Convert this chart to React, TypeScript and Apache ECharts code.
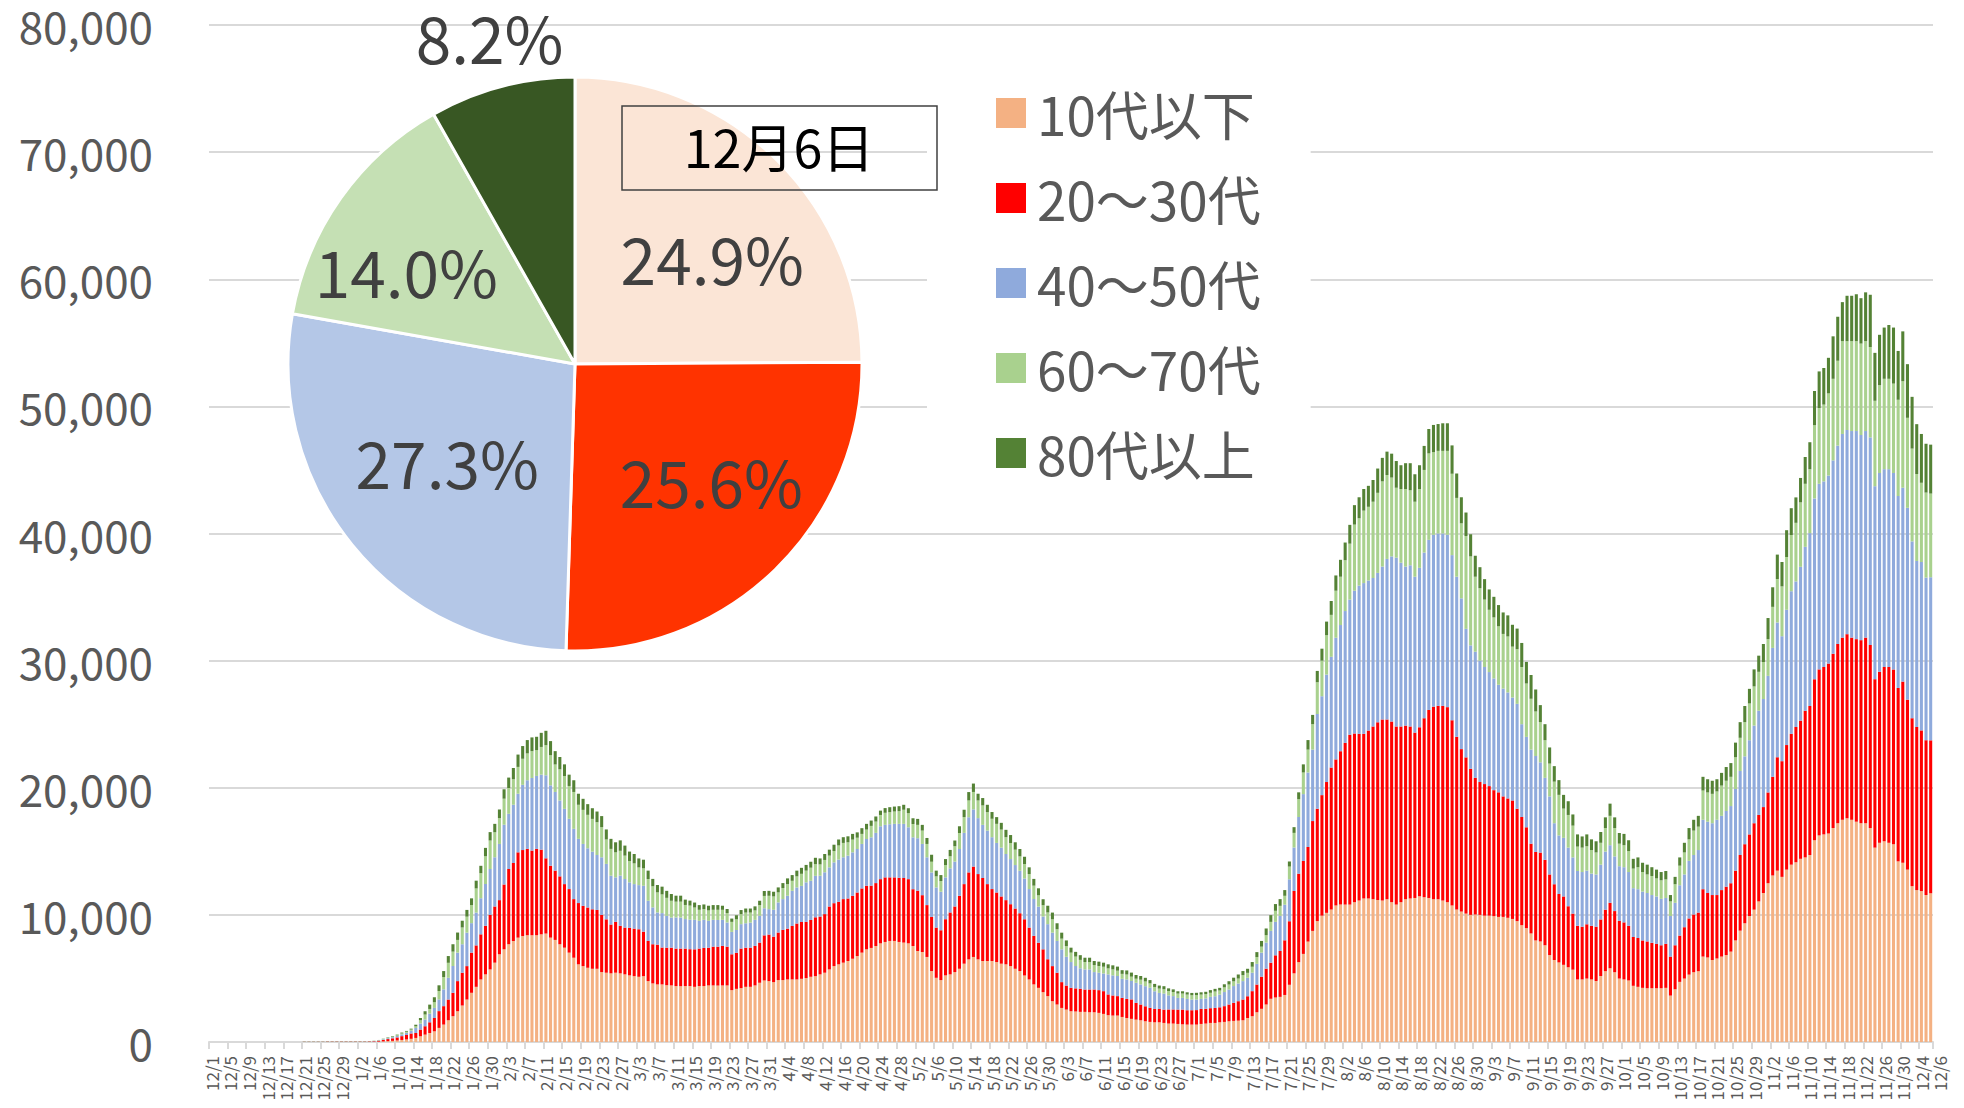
import React, { useEffect, useRef } from "react";
import * as echarts from "echarts";

const FONT = '"Noto Sans CJK JP", "Noto Sans", sans-serif';

// Daily categories 2021/12/1 .. 2022/12/6
const categories: string[] = (() => {
  const out: string[] = [];
  const d = new Date(2021, 11, 1);
  for (let i = 0; i < 371; i++) {
    out.push(`${d.getMonth() + 1}/${d.getDate()}`);
    d.setDate(d.getDate() + 1);
  }
  return out;
})();

const seriesNames = ["10代以下", "20～30代", "40～50代", "60～70代", "80代以上"];
const barColors = ["#F4B183", "#FF0000", "#8FAADC", "#A9D18E", "#548235"];
const pieColors = ["#FBE5D6", "#FF3300", "#B4C7E7", "#C5E0B4", "#385723"];
const pieDate = "12月6日";
const pieShares = [24.9, 25.6, 27.3, 14.0, 8.2];
const pieLabelOffsets = [[34, -3], [34, 11], [-14, 5], [-49, -9], [-48, -186]];

const under10 = [
  0,0,0,0,0,0,0,0,0,0,
  0,0,0,0,0,0,0,0,0,0,
  10,10,10,10,10,10,10,10,10,10,
  10,10,10,10,20,20,30,50,70,90,
  120,160,200,250,320,450,580,710,840,1110,
  1370,1710,2030,2420,2870,3340,3870,4340,4920,5320,
  5710,6240,6900,7290,7690,7950,8210,8340,8400,8400,
  8400,8470,8530,8210,8030,7690,7420,7030,6630,6110,
  5970,5840,5760,5760,5500,5450,5400,5450,5400,5320,
  5240,5180,5130,5180,4790,4610,4530,4530,4470,4450,
  4400,4390,4400,4400,4340,4400,4400,4450,4450,4440,
  4450,4450,4080,4180,4240,4340,4340,4450,4660,4840,
  4790,4710,4870,4870,4920,4920,4920,4970,5030,5130,
  5180,5320,5450,5710,5970,6110,6240,6370,6550,6760,
  7030,7290,7400,7550,7760,7870,7950,7950,7870,7820,
  7760,7550,7160,7080,6690,5580,5050,4870,5240,5320,
  5500,5760,6160,6500,6690,6500,6370,6370,6370,6290,
  6160,6110,5970,5760,5580,5240,4920,4530,4260,3920,
  3610,3210,2950,2680,2550,2420,2400,2370,2370,2340,
  2340,2290,2210,2110,2080,2080,1970,1890,1820,1760,
  1710,1630,1580,1550,1550,1500,1450,1450,1420,1390,
  1370,1370,1370,1420,1450,1500,1500,1550,1580,1630,
  1660,1680,1710,1890,2030,2340,2610,2950,3400,3500,
  3550,3700,4500,5400,6280,6930,7900,8740,9510,9940,
  10160,10420,10740,10810,10810,10810,11000,11130,11290,11290,
  11230,11170,11130,11230,11000,10810,11000,11230,11290,11330,
  11460,11390,11330,11230,11230,11130,11000,10740,10420,10260,
  10100,10000,10030,10000,9940,9940,9900,9840,9840,9770,
  9680,9510,9190,8960,8540,7990,7910,7610,6840,6450,
  6260,6070,5880,5690,4920,4920,4990,4920,4800,5190,
  5570,5800,5490,4990,4920,4840,4420,4340,4260,4230,
  4230,4230,4230,4260,3650,4150,4730,4990,5300,5490,
  5570,6720,6650,6450,6570,6720,6840,7110,7990,8760,
  9340,9910,10410,11060,11720,12490,13100,13480,12990,13560,
  13950,14140,14410,14520,14710,15870,16250,16330,16400,16830,
  17210,17480,17600,17480,17330,17210,17210,16830,15290,15670,
  15790,15670,15560,14210,14100,13560,12260,11950,11870,11560,
  11700,
];

const age20to30 = [
  0,0,0,0,0,0,0,0,0,0,
  0,0,0,0,0,0,0,0,0,0,
  10,10,10,10,10,20,20,20,20,20,
  20,20,20,20,30,40,70,110,160,200,
  240,300,350,420,390,530,660,840,1050,1320,
  1450,1630,1840,2370,2580,2630,3160,3260,3550,3820,
  4290,4420,4260,5100,5920,6130,6710,6760,6790,6660,
  6790,6660,5920,5660,5450,5340,5000,5000,4610,4820,
  4740,4740,4680,4630,4500,4200,3840,4000,3740,3680,
  3740,3740,3740,3500,3160,3080,3130,2900,2950,2970,
  2950,2960,2950,2900,2950,2950,3000,2970,3050,3060,
  3110,3050,2820,2840,3110,3080,3080,3110,3160,3550,
  3660,3580,3740,3950,4000,4210,4400,4470,4420,4470,
  4630,4550,4610,4950,4950,4920,5000,4920,4950,5000,
  5050,5000,4900,4950,5050,5080,5000,5000,5050,5080,
  5050,4470,4740,4470,4080,4260,3950,3920,4420,4870,
  5160,5740,6260,6840,7110,6710,6530,6050,5660,5470,
  5290,5050,4870,4740,4550,4420,4080,3820,3550,3370,
  2900,2760,2500,2030,1890,1840,1820,1820,1760,1790,
  1790,1790,1790,1630,1580,1530,1500,1500,1530,1320,
  1240,1180,1110,1050,1050,1050,1110,1110,1130,1160,
  1130,1130,1140,1180,1160,1160,1180,1180,1240,1320,
  1420,1530,1630,1710,1970,2180,2530,2820,2840,3320,
  3610,4300,5000,6480,6960,7310,7440,8640,8840,9480,
  10290,11170,11490,12070,12720,13360,13270,13110,12950,13210,
  13590,13980,14240,14140,14210,14010,13820,13660,13530,13010,
  13300,14080,14790,15150,15210,15310,15340,14570,13590,12780,
  12290,11490,10750,10450,10350,10190,9910,9800,9480,9390,
  9320,8840,8510,7930,7060,6960,6990,6720,6340,5960,
  5380,5380,4800,4410,4220,4150,4270,4220,4270,4450,
  4840,5150,4810,4540,4490,4300,3840,3840,3730,3680,
  3570,3490,3380,3460,3070,3460,3640,4040,4420,4540,
  4610,5300,5070,5110,4990,5230,5380,5380,5490,5950,
  6220,6420,6800,6800,6760,7140,7760,8920,9100,9800,
  10290,10640,10870,11530,11720,12670,13060,13170,13370,13710,
  14100,14330,14480,14330,14360,14400,14600,14400,13250,13450,
  13710,13830,13750,13640,14250,13370,13210,12830,12640,12180,
  12030,
];

const age40to50 = [
  0,0,0,0,0,0,0,0,0,0,
  0,0,0,0,0,0,0,0,0,0,
  10,10,10,10,10,10,10,10,10,10,
  10,10,10,10,10,20,30,50,70,90,
  110,140,170,210,390,470,530,680,790,920,
  1320,1710,2110,2240,2240,2630,2320,2580,2840,3290,
  3610,3870,4420,4700,4340,4580,4610,5130,5400,5710,
  5740,5900,6530,6320,6190,5970,5920,5530,5530,5050,
  4870,4660,4530,4320,4530,4360,3840,3500,3950,3820,
  3580,3500,3470,3610,3160,2900,2530,2710,2500,2370,
  2450,2440,2320,2320,2320,2180,2210,2110,2110,2100,
  2050,1900,1760,1790,1920,1920,1970,2050,2110,2130,
  2000,2110,2370,2420,2580,2760,2840,2840,3110,3080,
  3260,3210,3290,3080,3210,3320,3290,3370,3420,3420,
  3500,3680,3800,3950,4160,4130,4180,4210,4240,4260,
  4080,4080,4130,4030,3760,3500,3160,3030,3290,3470,
  3530,3680,4030,4340,4500,4400,4180,4210,4080,3900,
  3840,3630,3550,3420,3340,3210,3030,2900,2840,2580,
  2760,2630,2500,2580,2260,2030,1760,1610,1580,1580,
  1370,1370,1390,1580,1580,1580,1500,1530,1450,1580,
  1580,1580,1580,1390,1260,1260,1110,1050,920,920,
  890,840,830,790,820,890,920,1000,1110,1180,
  1320,1390,1450,1450,1450,1630,1890,2050,2500,2630,
  2760,2800,3300,3420,4460,5260,5860,5620,7450,7780,
  8450,8710,9570,9920,10370,10630,11230,11660,11860,11800,
  11680,11750,12030,12630,12990,13280,12880,12510,12680,12260,
  12540,13030,13380,13520,13560,13560,13560,12990,12590,11860,
  10110,9710,9920,9550,9210,8970,8790,8460,8480,8340,
  8100,8250,7300,7110,7400,7550,7100,6450,6140,4800,
  4610,4610,4610,4420,4310,4300,4220,4110,4110,4310,
  4570,4530,4300,4300,4340,4230,3840,3840,3840,3810,
  3760,3730,3650,3610,3190,3340,3960,4150,4530,4680,
  4920,5460,5610,5650,5920,5840,5950,6070,6420,6610,
  6910,7410,7680,8200,8500,9170,10140,10600,9830,10640,
  11220,11450,12100,12900,13600,14220,14600,14600,14790,15210,
  15600,16020,16060,16250,16370,16140,16250,16330,15180,15640,
  15560,15560,15450,15100,15250,15090,13910,13060,13250,12790,
  12830,
];

const age60to70 = [
  0,0,0,0,0,0,0,0,0,0,
  0,0,0,0,0,0,0,0,0,0,
  10,10,10,10,10,10,10,10,10,10,
  10,10,10,10,10,10,20,30,40,50,
  60,80,90,100,130,260,390,370,450,660,
  970,1180,1130,1000,1320,1260,1420,1900,1970,2180,
  2240,1970,2030,2050,2030,2000,2110,2050,2110,2110,
  2030,2180,2370,2370,2160,2450,2580,2580,2900,2680,
  2680,2630,2580,2580,2370,1920,2110,1970,1950,1840,
  1680,1630,1390,1370,1710,1660,1580,1470,1420,1320,
  1240,1250,1110,1110,970,870,840,820,790,800,
  790,740,790,840,790,840,790,740,840,970,
  1050,1050,790,870,920,790,870,950,920,1030,
  920,890,970,920,890,1110,1130,1050,1000,890,
  790,740,900,890,890,950,950,970,1000,1110,
  1110,1050,1050,1050,1050,840,870,840,970,950,
  1210,1260,1240,1320,1370,1390,1530,1450,1450,1500,
  1420,1320,1260,1210,1130,1130,1180,1050,890,890,
  920,1050,920,840,840,740,740,660,580,580,
  550,530,530,470,470,420,390,390,340,320,
  370,370,340,340,340,340,340,320,340,340,
  340,340,350,340,340,320,370,320,370,390,
  370,390,470,390,470,530,470,580,710,870,
  790,700,1000,1150,1400,1700,1800,2000,2500,2800,
  3100,3300,3700,3800,4000,4400,5200,5300,5700,5800,
  6000,6300,6700,6600,6200,5500,5800,6100,5900,5900,
  6200,6500,6800,6500,6500,6500,6600,6400,6200,5900,
  7300,7000,5900,5700,5300,4900,4800,4600,4300,4400,
  4000,4300,4500,4200,4000,3500,3160,2960,2580,3270,
  3190,2300,2570,2500,1920,1920,1920,1850,1730,1720,
  1850,2310,2230,1770,1730,1650,1540,1730,1540,1460,
  1500,1420,1460,1460,1150,1460,1540,1730,1690,1920,
  1840,2300,2300,2310,2230,2380,2380,2300,2500,2610,
  2690,2890,3080,3060,2910,2890,3230,3420,3920,4150,
  4420,4610,5070,4960,5030,5760,5960,6040,6460,6420,
  6680,7300,6990,7070,7070,7190,7070,7110,6720,6910,
  7110,7110,7030,7570,8380,7080,7300,6840,6230,6690,
  6580,
];

const age80plus = [
  0,0,0,0,0,0,0,0,0,0,
  0,0,0,0,0,0,0,0,0,0,
  10,10,10,10,10,10,10,10,10,10,
  10,10,10,10,10,10,10,20,30,40,
  50,60,60,70,130,180,260,340,390,450,
  470,530,580,580,530,530,530,610,580,660,
  660,660,680,740,820,890,970,1000,1050,1080,
  1050,1110,1130,1110,1050,970,920,890,920,870,
  870,840,840,840,870,790,790,790,820,790,
  740,740,710,680,660,580,580,610,550,530,
  470,470,420,390,390,370,370,370,370,370,
  320,320,260,320,320,320,320,320,340,390,
  390,370,390,390,450,450,450,470,450,470,
  500,470,470,470,500,470,450,470,450,420,
  450,450,420,400,340,370,390,390,390,390,
  390,450,470,450,470,550,450,470,470,500,
  450,530,580,660,660,530,580,580,530,530,
  530,580,630,580,580,580,530,530,550,470,
  530,530,470,470,450,390,370,370,340,340,
  320,340,320,320,320,320,290,320,320,290,
  290,290,260,240,240,240,210,210,180,180,
  180,180,180,180,180,210,210,210,240,260,
  290,320,320,320,370,390,450,530,530,530,
  530,450,400,450,540,640,750,730,890,940,
  1070,1090,1200,1330,1390,1480,1530,1650,1700,1650,
  1710,1910,1850,1840,1880,2100,1870,2030,2130,2160,
  1870,1890,1920,2140,2110,2170,2170,2230,1920,2050,
  1850,1740,1650,1650,1610,1600,1620,1670,1690,1660,
  1720,1620,1890,1700,1870,1730,1340,1260,1270,1220,
  1160,1080,1080,880,960,880,930,840,880,850,
  840,960,840,840,890,850,770,770,730,770,
  690,690,650,660,500,580,650,760,890,850,
  850,1080,1040,1030,960,1000,1080,1080,1150,1230,
  1270,1150,1340,1270,1420,1660,1540,1920,1920,2110,
  2110,2000,1920,2110,2120,2690,2880,2880,2800,3340,
  3460,3070,3570,3570,3690,3570,3840,4110,3770,3960,
  4030,4230,4410,3840,3920,4220,4070,3920,3840,3840,
  3850,
];

const seriesValues = [under10, age20to30, age40to50, age60to70, age80plus];

export default function App() {
  const ref = useRef<HTMLDivElement>(null);

  useEffect(() => {
    if (!ref.current) return;
    const chart = echarts.init(ref.current, undefined, { renderer: "svg" });
    const last = categories.length - 1;

    const xLabelStyle = {
      rotate: 90,
      fontSize: 17,
      fontFamily: FONT,
      color: "#595959",
      margin: 14,
    };

    const barSeries = seriesNames.map((name, i) => ({
      name,
      type: "bar",
      stack: "total",
      xAxisIndex: 0,
      data: seriesValues[i],
      itemStyle: { color: barColors[i] },
      barCategoryGap: "34%",
      silent: true,
      emphasis: { disabled: true },
    }));

    const pieSeries = {
      type: "pie",
      center: [575, 364],
      radius: 287,
      startAngle: 90,
      clockwise: true,
      silent: true,
      legendHoverLink: false,
      emphasis: { disabled: true },
      itemStyle: { borderColor: "#ffffff", borderWidth: 3 },
      labelLine: { show: false },
      label: {
        show: true,
        position: "inside",
        fontSize: 64,
        lineHeight: 64,
        fontFamily: FONT,
        color: "#404040",
        formatter: (p: any) => `${Number(p.value).toFixed(1)}%`,
      },
      data: pieShares.map((v, i) => ({
        value: v,
        name: `${seriesNames[i]} ${pieDate}`,
        itemStyle: { color: pieColors[i] },
        label: { offset: pieLabelOffsets[i] },
      })),
      z: 5,
    };

    chart.setOption({
      animation: false,
      backgroundColor: "#ffffff",
      textStyle: { fontFamily: FONT },
      grid: { left: 209, right: 31, top: 25, bottom: 66, containLabel: false },
      legend: {
        orient: "vertical",
        left: 927,
        top: 55,
        padding: [28, 50, 28, 69],
        backgroundColor: "#ffffff",
        itemWidth: 30,
        itemHeight: 30,
        itemGap: 25,
        icon: "rect",
        selectedMode: false,
        data: seriesNames,
        textStyle: {
          fontSize: 53,
          fontFamily: FONT,
          color: "#595959",
          lineHeight: 60,
          padding: [0, 0, 0, 6],
        },
      },
      xAxis: [
        {
          type: "category",
          data: categories,
          boundaryGap: true,
          axisLine: { lineStyle: { color: "#D9D9D9", width: 2 } },
          axisTick: {
            show: true,
            interval: (i: number) => i % 4 === 0,
            length: 7,
            lineStyle: { color: "#D9D9D9", width: 2 },
          },
          axisLabel: {
            ...xLabelStyle,
            interval: (i: number) => i % 4 === 0,
          },
        },
        {
          type: "category",
          data: categories,
          boundaryGap: true,
          position: "bottom",
          axisLine: { show: false },
          axisTick: { show: false },
          splitLine: { show: false },
          axisLabel: {
            ...xLabelStyle,
            verticalAlign: "top",
            interval: (i: number) => i === last,
            showMaxLabel: true,
          },
        },
      ],
      yAxis: {
        type: "value",
        min: 0,
        max: 80000,
        interval: 10000,
        axisLine: { show: false },
        axisTick: { show: false },
        splitLine: { lineStyle: { color: "#D9D9D9", width: 2 } },
        axisLabel: {
          fontSize: 44,
          lineHeight: 44,
          fontFamily: FONT,
          color: "#595959",
          margin: 56,
          formatter: (v: number) => v.toLocaleString("en-US"),
        },
      },
      series: [...barSeries, pieSeries],
      graphic: [
        {
          type: "rect",
          shape: { x: 622, y: 106, width: 315, height: 84 },
          style: { fill: "none", stroke: "#404040", lineWidth: 1.5 },
          z: 100,
          silent: true,
        },
        {
          type: "text",
          x: 779,
          y: 145,
          style: {
            text: pieDate,
            fontSize: 52,
            fontFamily: FONT,
            fill: "#000000",
            align: "center",
            verticalAlign: "middle",
          },
          z: 100,
          silent: true,
        },
      ],
    });

    return () => chart.dispose();
  }, []);

  return (
    <div
      ref={ref}
      style={{ position: "fixed", left: 0, top: 0, width: "1964px", height: "1108px" }}
    />
  );
}
